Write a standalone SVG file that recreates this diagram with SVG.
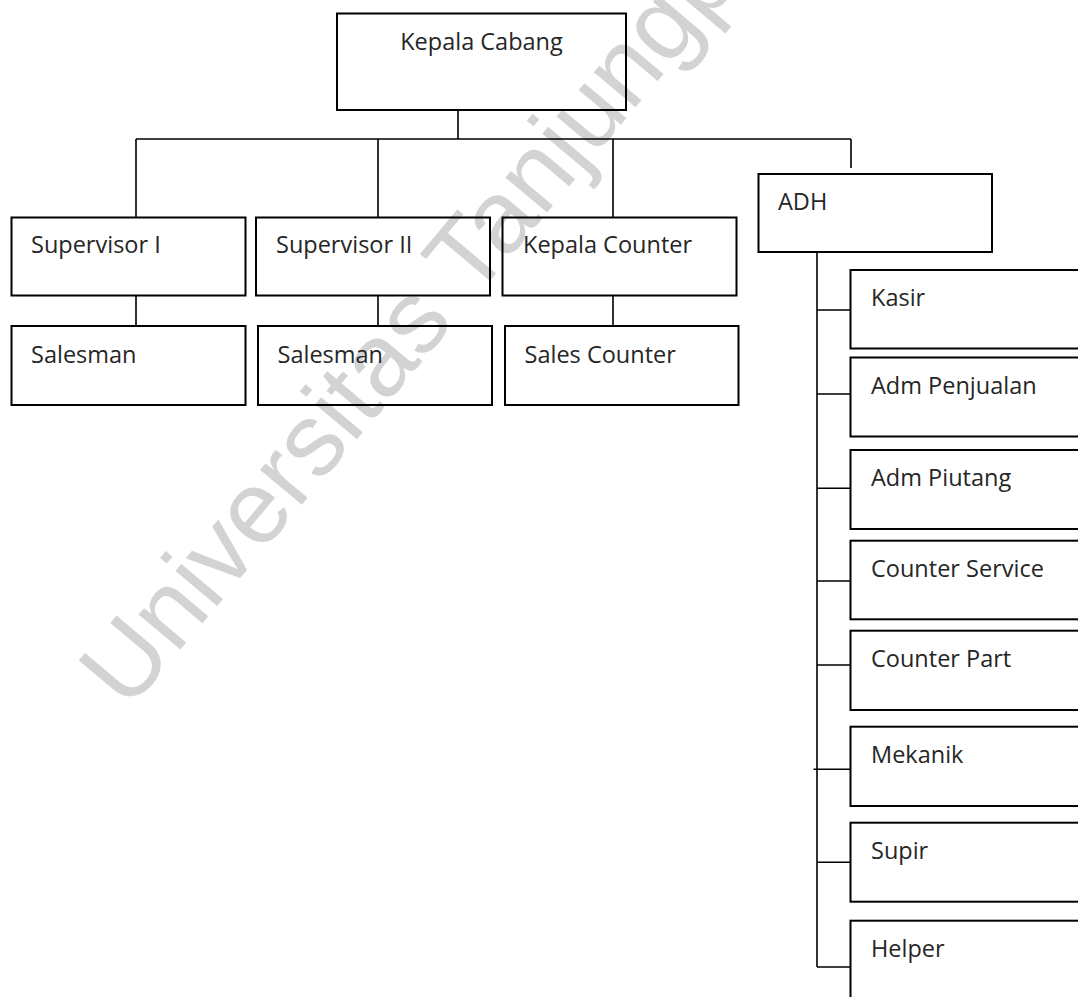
<svg xmlns="http://www.w3.org/2000/svg" width="1078" height="997" viewBox="0 0 1078 997">
<style>
.box{fill:none;stroke:#000;stroke-width:2}
.lbl{font-family:"Open Sans","Noto Sans",sans-serif;font-size:23.5px;fill:#262626}
.con{fill:none;stroke:#000;stroke-width:1.6}
.wm{font-family:"Liberation Sans",Arial,sans-serif;font-size:103px;fill:#d2d3d5}
</style>
<rect width="1078" height="997" fill="#fff"/>
<text class="wm" transform="translate(128 712) rotate(-50)">Universitas Tanjungpura</text>
<g id="connectors">
<path class="con" d="M458 110V139M136 139H851M136 139V217.5M378 139V217.5M613 139V217.5M851 139V168"/>
<path class="con" d="M136 295.5V326M378 295.5V326M613 295.5V326"/>
<path class="con" d="M817 252V967M817 310H850.5M817 394H850.5M817 488.3H850.5M817 581H850.5M817 665H850.5M813.5 769.3H850.5M817 862.3H850.5M817 967H850.5"/>
</g>
<g id="kepala-cabang"><rect class="box" x="337" y="13.5" width="289" height="96.5"/><text class="lbl" x="481.5" y="50" text-anchor="middle">Kepala Cabang</text></g>
<g id="supervisor-1"><rect class="box" x="11.5" y="217.5" width="234" height="78"/><text class="lbl" x="31" y="253">Supervisor I</text></g>
<g id="supervisor-2"><rect class="box" x="256" y="217.5" width="234" height="78"/><text class="lbl" x="276" y="253">Supervisor II</text></g>
<g id="kepala-counter"><rect class="box" x="502.5" y="217.5" width="234" height="78"/><text class="lbl" x="523" y="253">Kepala Counter</text></g>
<g id="salesman-1"><rect class="box" x="11.5" y="326" width="234" height="79"/><text class="lbl" x="31" y="362.5">Salesman</text></g>
<g id="salesman-2"><rect class="box" x="258" y="326" width="234" height="79"/><text class="lbl" x="277.5" y="362.5">Salesman</text></g>
<g id="sales-counter"><rect class="box" x="505" y="326" width="233.5" height="79"/><text class="lbl" x="524.5" y="362.5">Sales Counter</text></g>
<g id="adh"><rect class="box" x="758.5" y="174" width="233.5" height="78"/><text class="lbl" x="778" y="210">ADH</text></g>
<g id="kasir"><rect class="box" x="850.5" y="270" width="240" height="78.5"/><text class="lbl" x="871" y="306">Kasir</text></g>
<g id="adm-penjualan"><rect class="box" x="850.5" y="357.5" width="240" height="79"/><text class="lbl" x="871" y="393.5">Adm Penjualan</text></g>
<g id="adm-piutang"><rect class="box" x="850.5" y="450" width="240" height="79"/><text class="lbl" x="871" y="486">Adm Piutang</text></g>
<g id="counter-service"><rect class="box" x="850.5" y="540.7" width="240" height="78.6"/><text class="lbl" x="871" y="576.7">Counter Service</text></g>
<g id="counter-part"><rect class="box" x="850.5" y="630.7" width="240" height="79.3"/><text class="lbl" x="871" y="666.7">Counter Part</text></g>
<g id="mekanik"><rect class="box" x="850.5" y="726.7" width="240" height="79.3"/><text class="lbl" x="871" y="762.7">Mekanik</text></g>
<g id="supir"><rect class="box" x="850.5" y="822.7" width="240" height="79"/><text class="lbl" x="871" y="858.7">Supir</text></g>
<g id="helper"><rect class="box" x="850.5" y="920.7" width="240" height="100"/><text class="lbl" x="871" y="956.7">Helper</text></g>
</svg>
